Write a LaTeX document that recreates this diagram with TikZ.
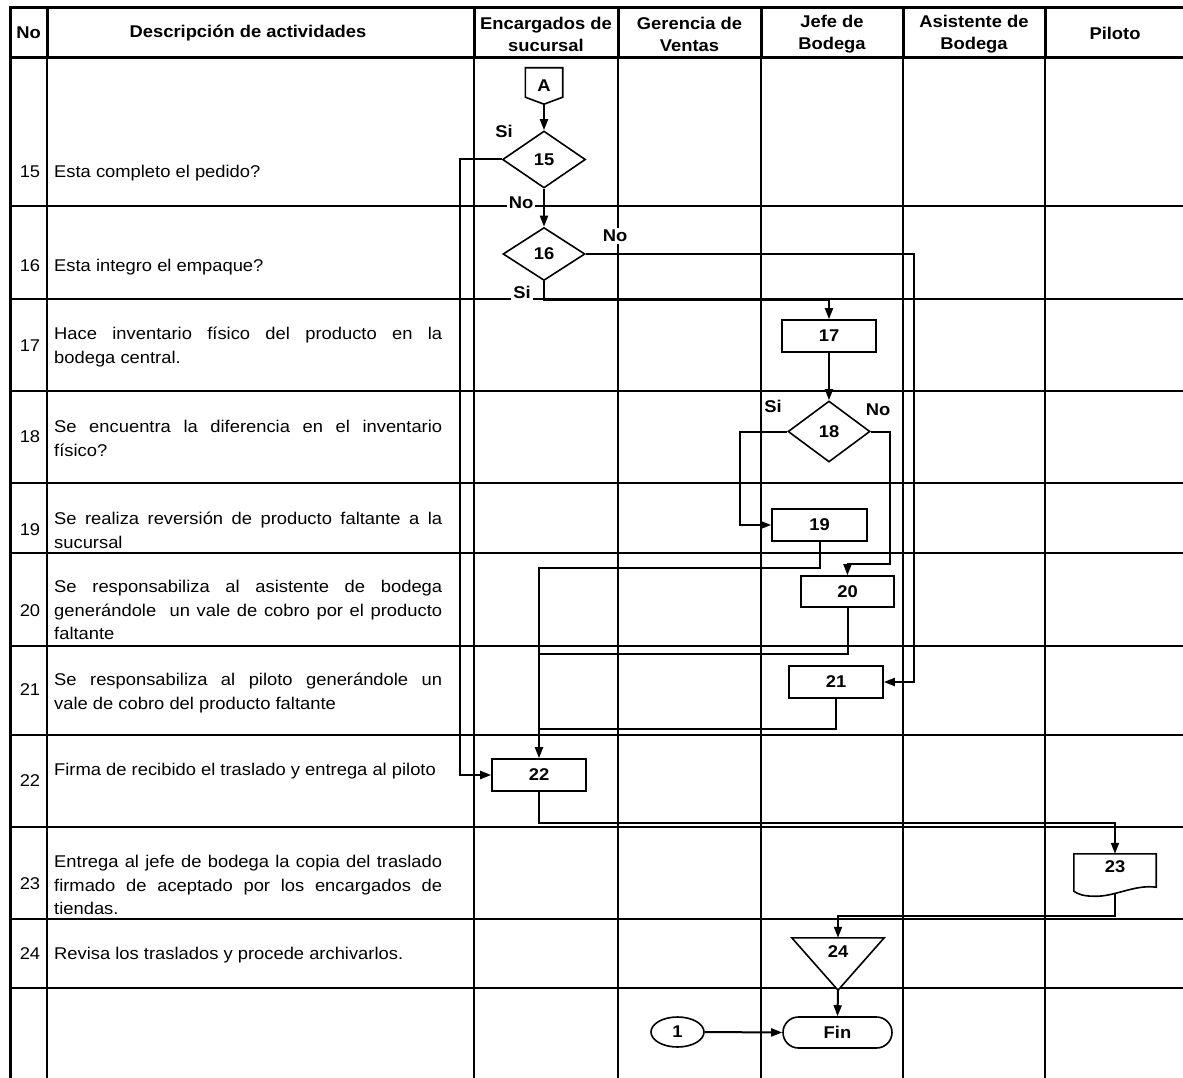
\documentclass[tikz,border=0pt]{standalone}
\usepackage{fontspec}
\setmainfont{Liberation Sans}[FakeStretch=1.08]
\usetikzlibrary{arrows.meta,shapes.geometric,shapes.misc,calc}
\newcommand\descsetup{\tolerance=10000\relax\hyphenpenalty=10000\relax\exhyphenpenalty=10000\relax}

\begin{document}
\begin{tikzpicture}[x=1pt,y=-1pt,
  grid/.style={line width=1.3pt},
  gridthick/.style={line width=3pt},
  bodyfont/.style={font=\fontsize{17}{23.5}\selectfont},
  boldfont/.style={font=\fontsize{17}{22}\selectfont\bfseries},
  head/.style={boldfont, align=center, inner sep=0pt},
  num/.style={bodyfont, inner sep=0pt},
  desc/.style={font=\fontsize{17}{23.5}\selectfont\descsetup,
    text width=388pt, align=justify, inner sep=0pt, anchor=north west},
  shapeline/.style={line width=1.6pt},
  proc/.style={shapeline, draw, fill=white, rectangle, minimum width=94pt, minimum height=32pt, inner sep=0pt, boldfont},
  decision/.style={shapeline, draw, fill=white, diamond, inner sep=0pt, boldfont},
  ghost/.style={rectangle, inner sep=0pt, draw=none},
  tag/.style={boldfont, fill=white, inner sep=2pt},
  conn/.style={line width=2pt, -{Triangle[length=11pt,width=8pt]}},
  link/.style={line width=2pt}
]
\useasboundingbox (0,0) rectangle (1183,1078);

% table grid
\foreach \y in {206,299,391,483,553,646,735,827,919,988}
  \draw[grid] (10,\y) -- (1183,\y);
\foreach \x in {47,474,618,761,903,1045}
  \draw[grid] (\x,58) -- (\x,1078);
\foreach \x in {47,474,618,761,903,1045}
  \draw[gridthick] (\x,8) -- (\x,58);
\draw[gridthick] (8.5,8) -- (1183,8);
\draw[gridthick] (10,58) -- (1183,58);
\draw[gridthick] (10,8) -- (10,1078);

% header
\node[head] (hNo) at (28.5,33) {No};
\node[head] (hDesc) at (248,33) {Descripción de actividades};
\node[head] (hEnc) at (546,34) {Encargados de\\sucursal};
\node[head] (hGer) at (689.5,34) {Gerencia de\\Ventas};
\node[head] (hJefe) at (832,34) {Jefe de\\Bodega};
\node[head] (hAsis) at (974,34) {Asistente de\\Bodega};
\node[head] (hPil) at (1115,33) {Piloto};

% activity numbers
\node[num] (n15) at (30,172) {15};
\node[num] (n16) at (30,266) {16};
\node[num] (n17) at (30,346) {17};
\node[num] (n18) at (30,437) {18};
\node[num] (n19) at (30,530) {19};
\node[num] (n20) at (30,611) {20};
\node[num] (n21) at (30,690) {21};
\node[num] (n22) at (30,781) {22};
\node[num] (n23) at (30,884) {23};
\node[num] (n24) at (30,954) {24};

% activity descriptions
\node[desc] (t15) at (54,165) {Esta completo el pedido?};
\node[desc] (t16) at (54,259) {Esta integro el empaque?};
\node[desc] (t17) at (54,327) {Hace inventario físico del producto en la\linebreak bodega central.};
\node[desc] (t18) at (54,420) {Se encuentra la diferencia en el inventario\linebreak físico?};
\node[desc] (t19) at (54,512) {Se realiza reversión de producto faltante a la\linebreak sucursal};
\node[desc] (t20) at (54,580) {Se responsabiliza al asistente de bodega\linebreak generándole \ un vale de cobro por el producto\linebreak faltante};
\node[desc] (t21) at (54,673) {Se responsabiliza al piloto generándole un\linebreak vale de cobro del producto faltante};
\node[desc] (t22) at (54,763) {Firma de recibido el traslado y entrega al piloto};
\node[desc] (t23) at (54,855) {Entrega al jefe de bodega la copia del traslado\linebreak firmado de aceptado por los encargados de\linebreak tiendas.};
\node[desc] (t24) at (54,947) {Revisa los traslados y procede archivarlos.};

% flow shapes
\node[ghost, minimum width=37pt, minimum height=36pt, boldfont] (A) at (544,86) {A};
\draw[shapeline] (A.north west) -- (A.north east) -- ([yshift=7pt]A.south east)
  -- (A.south) -- ([yshift=7pt]A.south west) -- cycle;

\node[decision, minimum width=83pt, minimum height=57pt] (d15) at (544,159.5) {15};
\node[decision, minimum width=82pt, minimum height=53pt] (d16) at (544,254) {16};
\node[proc] (b17) at (829,336) {17};
\node[decision, minimum width=82pt, minimum height=61pt] (d18) at (829,431.5) {18};
\node[proc, minimum width=95pt] (b19) at (819.5,525) {19};
\node[proc, minimum width=93pt, minimum height=31pt] (b20) at (847.5,591.5) {20};
\node[proc] (b21) at (836,682) {21};
\node[proc] (b22) at (539,775) {22};

\node[ghost, minimum width=82pt, minimum height=42pt] (d23) at (1115,875) {};
\draw[shapeline, fill=white] (d23.north west) -- (d23.north east) -- ([yshift=9pt]d23.south east)
  .. controls ([xshift=-22pt,yshift=12pt]d23.south east) and ([xshift=-42pt,yshift=-1pt]d23.south east)
  .. ([xshift=20pt]d23.south west)
  .. controls ([xshift=10pt]d23.south west) and ([xshift=4pt,yshift=2pt]d23.south west)
  .. ([yshift=5pt]d23.south west) -- cycle;
\node[boldfont, inner sep=0pt] (l23) at (1115,867) {23};

\node[ghost, minimum width=92pt, minimum height=52pt] (t24s) at (838,964) {};
\draw[shapeline, fill=white] (t24s.north west) -- (t24s.north east) -- (t24s.south) -- cycle;
\node[boldfont, inner sep=0pt] (l24) at (838,952) {24};

\node[shapeline, draw, rounded rectangle, minimum width=109pt, minimum height=31pt, inner sep=0pt, boldfont] (fin) at (837.5,1032.5) {Fin};
\node[shapeline, draw, ellipse, minimum width=53pt, minimum height=30pt, inner sep=0pt, boldfont] (c1) at (677.5,1032) {1};

% connectors
\draw[conn] (A.south) -- (d15.north);
\draw[conn] (d15.south) -- (d16.north);
\draw[conn] (d15.west) -- ++(-42,0) |- (b22.west);
\draw[conn] (d16.east) -| ($(b21.east)+(30,0)$) -- (b21.east);
\draw[conn] (d16.south) -- ++(0,19) -| (b17.north);
\draw[conn] (b17.south) -- (d18.north);
\draw[conn] (d18.west) -- ++(-47,0) |- (b19.west);
\draw[conn] (d18.east) -- ++(19,0) -- ++(0,132) -| (b20.north);
\draw[conn] (b19.south) -- ++(0,26) -| (b22.north);
\draw[link] (b20.south) -- ++(0,46) coordinate (j20) -- (j20 -| b22.north);
\draw[link] (b21.south) -- ++(0,30) coordinate (j21) -- (j21 -| b22.north);
\draw[conn] (b22.south) -- ++(0,31) -| (d23.north);
\draw[conn] ([yshift=2pt]d23.south) -- ++(0,22) -| (t24s.north);
\draw[conn] (t24s.south) -- (fin.north);
\draw[conn] (c1.east) -- (fin.west);

% branch labels
\node[tag] (si15) at (504,131) {Si};
\node[tag] (no15) at (521,203) {No};
\node[tag] (no16) at (615,236) {No};
\node[tag] (si16) at (522,292) {Si};
\node[tag] (si18) at (773,406) {Si};
\node[tag] (no18) at (878,410) {No};
\end{tikzpicture}
\end{document}
